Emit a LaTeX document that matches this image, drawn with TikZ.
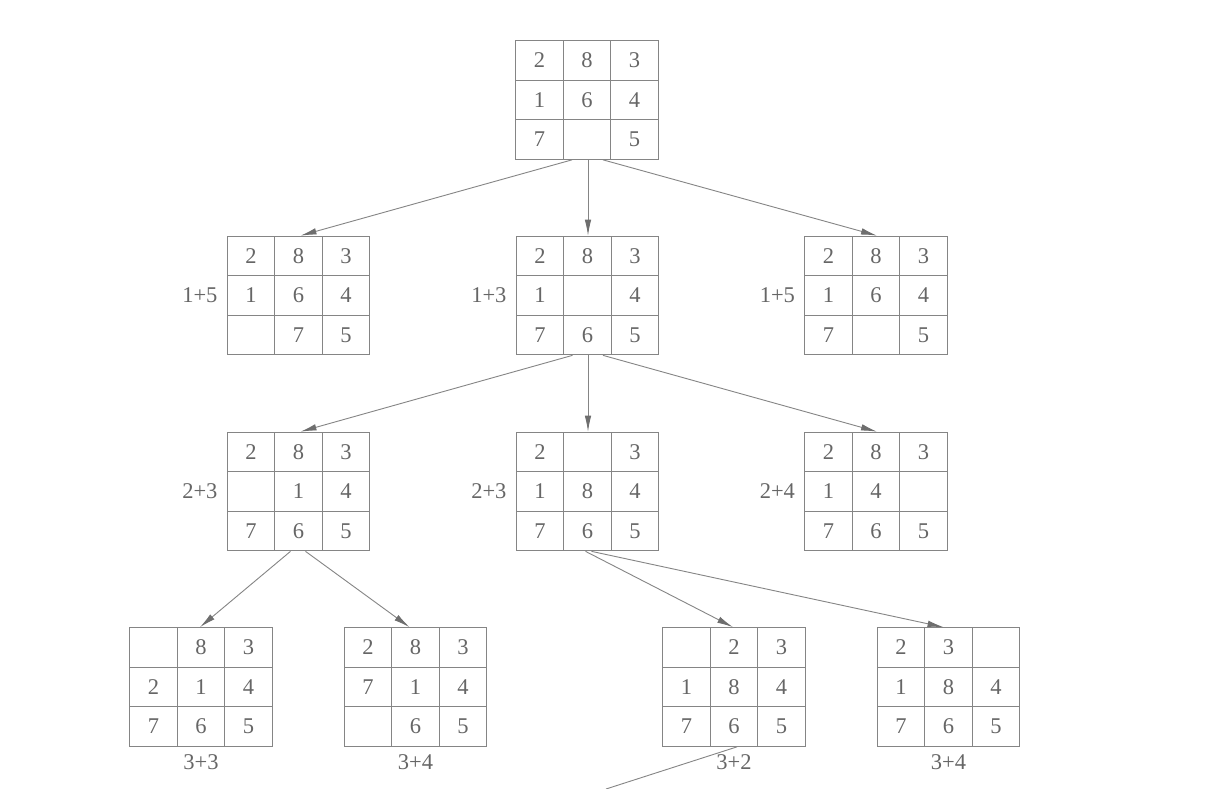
\documentclass[tikz,border=0pt]{standalone}
\usepackage{fontspec}
\setmainfont{Liberation Serif}
\usetikzlibrary{matrix,arrows.meta,positioning,calc}
\definecolor{linegray}{HTML}{858585}
\definecolor{tipgray}{HTML}{6E6E6E}
\definecolor{textgray}{HTML}{666666}
\tikzset{
  board/.style={matrix of nodes, nodes in empty cells, inner sep=0pt, outer sep=0pt,
    column sep=-0.9pt, row sep=-0.9pt,
    nodes={draw=linegray, line width=0.9pt, minimum width=47.6pt, minimum height=39.6pt,
      inner sep=0pt, outer sep=0pt, text=textgray, font=\fontsize{22.5}{22.5}\selectfont, anchor=center}},
  lab/.style={inner sep=0pt, text=textgray, font=\fontsize{22.5}{22.5}\selectfont},
  conn/.style={draw=linegray, line width=0.9pt, -{Latex[length=16pt,width=6.5pt,fill=tipgray,color=tipgray]}},
  plain/.style={draw=linegray, line width=0.9pt}
}
\begin{document}
\begin{tikzpicture}[x=1pt,y=-1pt]
\useasboundingbox[fill=white] (0,0) rectangle (1215,789);
% root
\matrix (r) [board] at (587,100) {2 & 8 & 3\\ 1 & 6 & 4\\ 7 & & 5\\};
% level 1
\matrix (a1) [board] at (298.5,295.5) {2 & 8 & 3\\ 1 & 6 & 4\\ & 7 & 5\\};
\matrix (a2) [board] at (587.5,295.5) {2 & 8 & 3\\ 1 & & 4\\ 7 & 6 & 5\\};
\matrix (a3) [board] at (876,295.5) {2 & 8 & 3\\ 1 & 6 & 4\\ 7 & & 5\\};
\node[lab, left=9pt of a1] (la1) {1+5};
\node[lab, left=9pt of a2] (la2) {1+3};
\node[lab, left=9pt of a3] (la3) {1+5};
% level 2
\matrix (b1) [board] at (298.5,491.5) {2 & 8 & 3\\ & 1 & 4\\ 7 & 6 & 5\\};
\matrix (b2) [board] at (587.5,491.5) {2 & & 3\\ 1 & 8 & 4\\ 7 & 6 & 5\\};
\matrix (b3) [board] at (876,491.5) {2 & 8 & 3\\ 1 & 4 & \\ 7 & 6 & 5\\};
\node[lab, left=9pt of b1] (lb1) {2+3};
\node[lab, left=9pt of b2] (lb2) {2+3};
\node[lab, left=9pt of b3] (lb3) {2+4};
% level 3
\matrix (c1) [board] at (201,687) { & 8 & 3\\ 2 & 1 & 4\\ 7 & 6 & 5\\};
\matrix (c2) [board] at (415.5,687) {2 & 8 & 3\\ 7 & 1 & 4\\ & 6 & 5\\};
\matrix (c3) [board] at (734,687) { & 2 & 3\\ 1 & 8 & 4\\ 7 & 6 & 5\\};
\matrix (c4) [board] at (948.5,687) {2 & 3 & \\ 1 & 8 & 4\\ 7 & 6 & 5\\};
\node[lab, below=8pt of c1] (lc1) {3+3};
\node[lab, below=8pt of c2] (lc2) {3+4};
\node[lab, below=8pt of c3] (lc3) {3+2};
\node[lab, below=8pt of c4] (lc4) {3+4};
% connectors
\draw[conn] ($(r.south)+(-15,0)$) -- ($(a1.north)+(2,0)$);
\draw[conn] ($(r.south)+(1,0)$) -- ($(a2.north)+(0.5,0)$);
\draw[conn] ($(r.south)+(16,0)$) -- ($(a3.north)+(1,0)$);
\draw[conn] ($(a2.south)+(-15,0)$) -- ($(b1.north)+(2,0)$);
\draw[conn] ($(a2.south)+(0.5,0)$) -- ($(b2.north)+(0.5,0)$);
\draw[conn] ($(a2.south)+(15.5,0)$) -- ($(b3.north)+(1,0)$);
\draw[conn] ($(b1.south)+(-8,0)$) -- ($(c1.north)+(-1,0)$);
\draw[conn] ($(b1.south)+(7,0)$) -- ($(c2.north)+(-6,0)$);
\draw[conn] ($(b2.south)+(-2,0)$) -- ($(c3.north)+(-1,0)$);
\draw[conn] ($(b2.south)+(4,0)$) -- ($(c4.north)+(-5,0)$);
\coordinate (cut) at (606,789);
\draw[plain] ($(c3.south)+(3,0)$) -- (cut);
\end{tikzpicture}
\end{document}
